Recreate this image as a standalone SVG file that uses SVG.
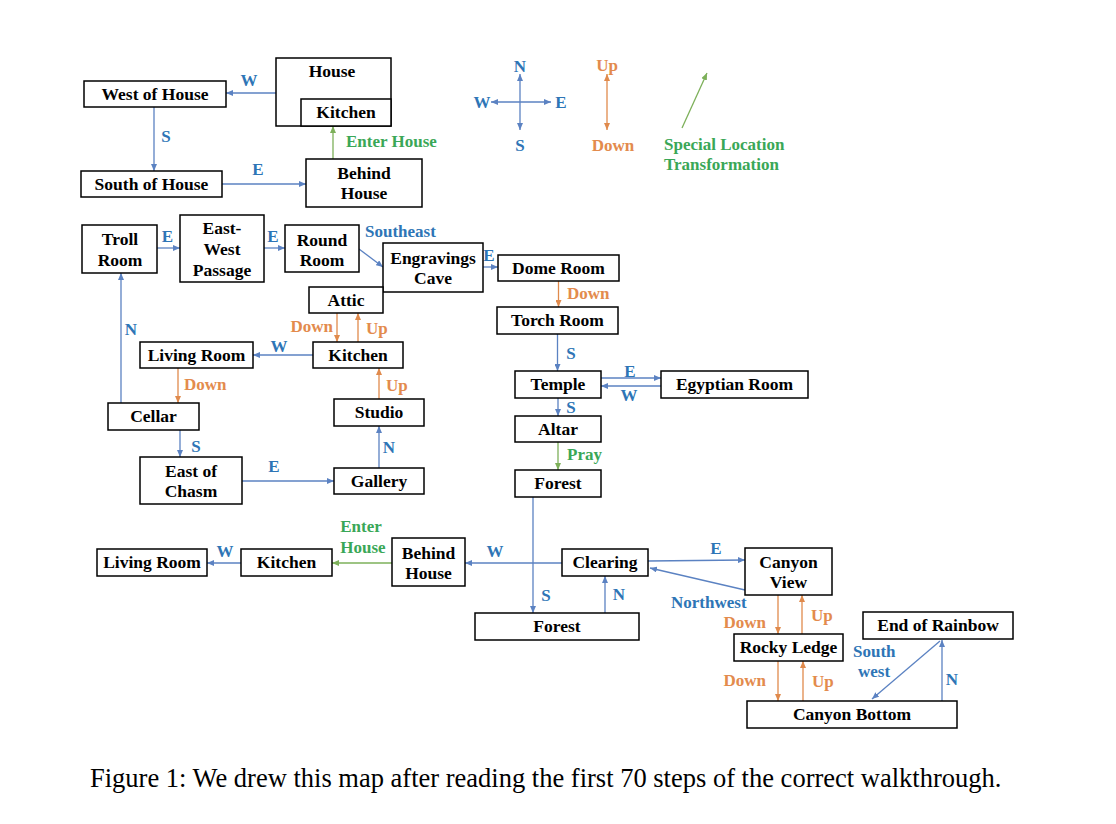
<svg xmlns="http://www.w3.org/2000/svg" width="1116" height="824" viewBox="0 0 1116 824">
<defs>
<style>
.n rect{fill:#fff;stroke:#000;stroke-width:1.5}
.n text{font-family:"Liberation Serif",serif;font-weight:bold;font-size:17.5px;fill:#000;text-anchor:middle}
.lb{font-family:"Liberation Serif",serif;font-weight:bold;font-size:17px}
.bt{fill:#2E75B6}.ot{fill:#E38B4D}.gt{fill:#3AA757}
.c line{stroke-width:1.3;fill:none}
.b{stroke:#5B82C2;marker-end:url(#ab)}
.o{stroke:#E08A4C;marker-end:url(#ao)}
.g{stroke:#7DB05A;marker-end:url(#ag)}
.cap{font-family:"Liberation Serif",serif;font-size:26.5px;fill:#000}
</style>
<marker id="ab" markerUnits="userSpaceOnUse" markerWidth="8" markerHeight="6" refX="7" refY="3" orient="auto-start-reverse"><path d="M0,0 L7,3 L0,6 z" fill="#5B82C2"/></marker>
<marker id="ao" markerUnits="userSpaceOnUse" markerWidth="8" markerHeight="6" refX="7" refY="3" orient="auto-start-reverse"><path d="M0,0 L7,3 L0,6 z" fill="#E08A4C"/></marker>
<marker id="ag" markerUnits="userSpaceOnUse" markerWidth="8" markerHeight="6" refX="7" refY="3" orient="auto-start-reverse"><path d="M0,0 L7,3 L0,6 z" fill="#7DB05A"/></marker>
</defs>
<rect width="1116" height="824" fill="#fff"/>

<g id="connectors" class="c">
<line class="b" x1="276" y1="93" x2="226" y2="93"/>
<line class="b" x1="154" y1="107" x2="154" y2="171"/>
<line class="b" x1="222" y1="184" x2="306" y2="184"/>
<line class="g" x1="333" y1="159" x2="333" y2="126"/>
<line class="b" x1="520" y1="74" x2="520" y2="130" marker-start="url(#ab)"/>
<line class="b" x1="491" y1="102" x2="551" y2="102" marker-start="url(#ab)"/>
<line class="o" x1="607" y1="74" x2="607" y2="130" marker-start="url(#ao)"/>
<line class="g" x1="682" y1="128" x2="707" y2="73"/>
<line class="b" x1="157" y1="248" x2="180" y2="248"/>
<line class="b" x1="264" y1="248" x2="285" y2="248"/>
<line class="b" x1="359" y1="249" x2="383" y2="267"/>
<line class="b" x1="483" y1="267" x2="498" y2="267"/>
<line class="o" x1="558.5" y1="281" x2="558.5" y2="307"/>
<line class="b" x1="557.5" y1="334" x2="557.5" y2="371"/>
<line class="b" x1="601" y1="378" x2="661" y2="378"/>
<line class="b" x1="661" y1="386" x2="601" y2="386"/>
<line class="b" x1="558" y1="398" x2="558" y2="416"/>
<line class="g" x1="558" y1="442" x2="558" y2="470"/>
<line class="o" x1="337" y1="313" x2="337" y2="342"/>
<line class="o" x1="358" y1="342" x2="358" y2="313"/>
<line class="b" x1="313" y1="355" x2="253" y2="355"/>
<line class="o" x1="178" y1="368" x2="178" y2="403"/>
<line class="b" x1="121" y1="403" x2="121" y2="273"/>
<line class="b" x1="180" y1="430" x2="180" y2="457"/>
<line class="b" x1="242" y1="481" x2="334" y2="481"/>
<line class="b" x1="379" y1="468" x2="379" y2="426"/>
<line class="o" x1="379" y1="399" x2="379" y2="368"/>
<line class="b" x1="533" y1="497" x2="533" y2="613"/>
<line class="b" x1="562" y1="563" x2="465" y2="563"/>
<line class="g" x1="392" y1="563" x2="332" y2="563"/>
<line class="b" x1="241" y1="563" x2="207" y2="563"/>
<line class="b" x1="605" y1="613" x2="605" y2="576"/>
<line class="b" x1="648" y1="561" x2="745" y2="560"/>
<line class="b" x1="745" y1="590" x2="650" y2="568"/>
<line class="o" x1="778" y1="595" x2="778" y2="634"/>
<line class="o" x1="802" y1="634" x2="802" y2="595"/>
<line class="o" x1="778" y1="661" x2="778" y2="701"/>
<line class="o" x1="803" y1="701" x2="803" y2="661"/>
<line class="b" x1="940" y1="641" x2="872" y2="699"/>
<line class="b" x1="942" y1="701" x2="942" y2="640"/>
</g>

<g id="labels">
<text class="lb bt" x="249" y="85.5" text-anchor="middle">W</text>
<text class="lb bt" x="166" y="142" text-anchor="middle">S</text>
<text class="lb bt" x="258" y="174.5" text-anchor="middle">E</text>
<text class="lb gt" x="346" y="147">Enter House</text>
<text class="lb bt" x="520" y="71.5" text-anchor="middle">N</text>
<text class="lb bt" x="520" y="150.5" text-anchor="middle">S</text>
<text class="lb bt" x="482" y="108" text-anchor="middle">W</text>
<text class="lb bt" x="561" y="108" text-anchor="middle">E</text>
<text class="lb ot" x="607" y="70.5" text-anchor="middle">Up</text>
<text class="lb ot" x="613" y="151" text-anchor="middle">Down</text>
<text class="lb gt" x="664" y="149.5">Special Location</text>
<text class="lb gt" x="664" y="169.5">Transformation</text>
<text class="lb bt" x="167.5" y="242" text-anchor="middle">E</text>
<text class="lb bt" x="273" y="242" text-anchor="middle">E</text>
<text class="lb bt" x="365" y="237">Southeast</text>
<text class="lb bt" x="489" y="261" text-anchor="middle">E</text>
<text class="lb ot" x="567" y="299">Down</text>
<text class="lb ot" x="333" y="332" text-anchor="end">Down</text>
<text class="lb ot" x="366" y="333.5">Up</text>
<text class="lb bt" x="279" y="352" text-anchor="middle">W</text>
<text class="lb bt" x="131" y="334.5" text-anchor="middle">N</text>
<text class="lb bt" x="571" y="359" text-anchor="middle">S</text>
<text class="lb bt" x="630" y="377" text-anchor="middle">E</text>
<text class="lb bt" x="629" y="401" text-anchor="middle">W</text>
<text class="lb bt" x="571" y="412.5" text-anchor="middle">S</text>
<text class="lb gt" x="567" y="460">Pray</text>
<text class="lb ot" x="184" y="390">Down</text>
<text class="lb bt" x="196" y="452" text-anchor="middle">S</text>
<text class="lb bt" x="274" y="472" text-anchor="middle">E</text>
<text class="lb bt" x="389" y="452.5" text-anchor="middle">N</text>
<text class="lb ot" x="386" y="391">Up</text>
<text class="lb bt" x="225" y="557" text-anchor="middle">W</text>
<text class="lb gt" x="361" y="532" text-anchor="middle">Enter</text>
<text class="lb gt" x="363" y="552.5" text-anchor="middle">House</text>
<text class="lb bt" x="495" y="557" text-anchor="middle">W</text>
<text class="lb bt" x="546" y="601" text-anchor="middle">S</text>
<text class="lb bt" x="619" y="600" text-anchor="middle">N</text>
<text class="lb bt" x="716" y="554" text-anchor="middle">E</text>
<text class="lb bt" x="671" y="608">Northwest</text>
<text class="lb ot" x="766" y="628" text-anchor="end">Down</text>
<text class="lb ot" x="811" y="621">Up</text>
<text class="lb ot" x="766" y="686" text-anchor="end">Down</text>
<text class="lb ot" x="812" y="687">Up</text>
<text class="lb bt" x="853" y="657">South</text>
<text class="lb bt" x="858" y="677">west</text>
<text class="lb bt" x="952" y="685" text-anchor="middle">N</text>
</g>

<g id="house" class="n"><rect x="276" y="58" width="115" height="68"/><text x="332" y="77">House</text></g>
<g id="house-kitchen" class="n"><rect x="301" y="99" width="90" height="27"/><text x="346" y="118">Kitchen</text></g>
<g id="west-of-house" class="n"><rect x="84" y="81" width="142" height="26"/><text x="155" y="99.5">West of House</text></g>
<g id="south-of-house" class="n"><rect x="81" y="171" width="141" height="26"/><text x="151.5" y="189.5">South of House</text></g>
<g id="behind-house-1" class="n"><rect x="306" y="159" width="116" height="48"/><text x="364" y="179">Behind</text><text x="364" y="199">House</text></g>

<g id="troll-room" class="n"><rect x="82" y="225" width="75" height="48"/><text x="120" y="245">Troll</text><text x="120" y="265.5">Room</text></g>
<g id="east-west-passage" class="n"><rect x="180" y="215" width="84" height="67"/><text x="222" y="234">East-</text><text x="222" y="255">West</text><text x="222" y="275.5">Passage</text></g>
<g id="round-room" class="n"><rect x="285" y="225" width="74" height="47"/><text x="322" y="245.5">Round</text><text x="322" y="265.5">Room</text></g>
<g id="engravings-cave" class="n"><rect x="383" y="243" width="100" height="49"/><text x="433" y="264">Engravings</text><text x="433" y="284">Cave</text></g>
<g id="dome-room" class="n"><rect x="498" y="255" width="121" height="26"/><text x="558.5" y="273.5">Dome Room</text></g>
<g id="attic" class="n"><rect x="309" y="287" width="74" height="26"/><text x="346" y="305.5">Attic</text></g>
<g id="torch-room" class="n"><rect x="497" y="307" width="121" height="27"/><text x="557.5" y="326">Torch Room</text></g>
<g id="living-room-1" class="n"><rect x="140" y="342" width="113" height="26"/><text x="196.5" y="360.5">Living Room</text></g>
<g id="kitchen-1" class="n"><rect x="313" y="342" width="90" height="26"/><text x="358" y="360.5">Kitchen</text></g>
<g id="temple" class="n"><rect x="515" y="371" width="86" height="27"/><text x="558" y="390">Temple</text></g>
<g id="egyptian-room" class="n"><rect x="661" y="371" width="147" height="27"/><text x="734.5" y="390">Egyptian Room</text></g>
<g id="altar" class="n"><rect x="515" y="416" width="86" height="26"/><text x="558" y="434.5">Altar</text></g>
<g id="forest-1" class="n"><rect x="515" y="470" width="86" height="27"/><text x="558" y="489">Forest</text></g>
<g id="cellar" class="n"><rect x="108" y="403" width="91" height="27"/><text x="153.5" y="422">Cellar</text></g>
<g id="east-of-chasm" class="n"><rect x="140" y="457" width="102" height="47"/><text x="191" y="477">East of</text><text x="191" y="496.5">Chasm</text></g>
<g id="studio" class="n"><rect x="334" y="399" width="90" height="27"/><text x="379" y="418">Studio</text></g>
<g id="gallery" class="n"><rect x="334" y="468" width="90" height="26"/><text x="379" y="486.5">Gallery</text></g>

<g id="living-room-2" class="n"><rect x="97" y="549" width="110" height="27"/><text x="152" y="568">Living Room</text></g>
<g id="kitchen-2" class="n"><rect x="241" y="549" width="91" height="27"/><text x="286.5" y="568">Kitchen</text></g>
<g id="behind-house-2" class="n"><rect x="392" y="538" width="73" height="48"/><text x="428.5" y="559">Behind</text><text x="428.5" y="579">House</text></g>
<g id="clearing" class="n"><rect x="562" y="549" width="86" height="27"/><text x="605" y="568">Clearing</text></g>
<g id="forest-2" class="n"><rect x="475" y="613" width="164" height="27"/><text x="557" y="632">Forest</text></g>
<g id="canyon-view" class="n"><rect x="745" y="548" width="87" height="47"/><text x="788.5" y="568">Canyon</text><text x="788.5" y="588">View</text></g>
<g id="rocky-ledge" class="n"><rect x="734" y="634" width="109" height="27"/><text x="788.5" y="653">Rocky Ledge</text></g>
<g id="end-of-rainbow" class="n"><rect x="863" y="612" width="150" height="27"/><text x="938" y="631">End of Rainbow</text></g>
<g id="canyon-bottom" class="n"><rect x="747" y="701" width="210" height="27"/><text x="852" y="720">Canyon  Bottom</text></g>

<text class="cap" x="90" y="787">Figure 1: We drew this map after reading the first 70 steps of the correct walkthrough.</text>
</svg>
